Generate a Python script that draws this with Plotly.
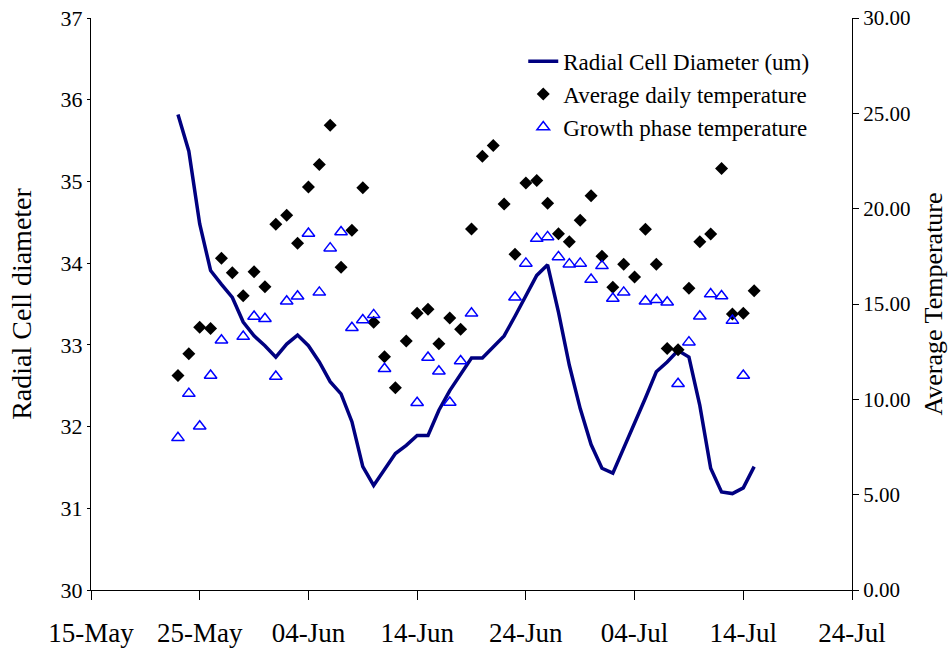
import pandas as pd
import plotly.graph_objects as go

# Daily dates (23-May to 15-Jul)
dates = pd.date_range("2007-05-23", "2007-07-15", freq="D")

# Radial cell diameter (um) - left axis
radial_diameter = [
    35.82, 35.37, 34.48, 33.91, 33.74, 33.58, 33.28, 33.11, 32.99,
    32.85, 33.01, 33.12, 32.99, 32.79, 32.55, 32.40, 32.06, 31.51, 31.28,
    31.48, 31.67, 31.77, 31.89, 31.89, 32.20, 32.44, 32.65, 32.84, 32.84,
    32.98, 33.11, 33.35, 33.61, 33.85, 33.98, 33.40, 32.75, 32.22, 31.78,
    31.49, 31.43, 31.73, 32.04, 32.35, 32.67, 32.79, 32.93, 32.85, 32.26,
    31.49, 31.20, 31.18, 31.25, 31.51,
]

# Average daily temperature - right axis
avg_daily_temp = [
    11.25, 12.39, 13.78, 13.72, 17.40, 16.64, 15.43, 16.69, 15.90,
    19.18, 19.65, 18.19, 21.13, 22.32, 24.37, 16.93, 18.87, 21.10, 14.04,
    12.23, 10.61, 13.06, 14.51, 14.72, 12.91, 14.27, 13.67, 18.93, 22.75,
    23.31, 20.24, 17.61, 21.35, 21.48, 20.29, 18.69, 18.26, 19.39, 20.68,
    17.51, 15.88, 17.08, 16.41, 18.92, 17.08, 12.66, 12.60, 15.82, 18.26,
    18.67, 22.11, 14.48, 14.51, 15.70,
]

# Growth phase temperature - right axis
growth_phase_temp = [
    7.98, 10.30, 8.59, 11.25, 13.10, None, 13.29, 14.34, 14.23,
    11.20, 15.14, 15.41, 18.70, 15.61, 17.93, 18.78, 13.75, 14.16, 14.43,
    11.60, None, None, 9.82, 12.19, 11.47, 9.83, 12.01, 14.51, None,
    None, None, 15.35, 17.13, 18.43, 18.52, 17.47, 17.09, 17.13, 16.28,
    17.00, 15.29, 15.61, None, 15.14, 15.22, 15.09, 10.82, 13.00, 14.36,
    15.52, 15.42, 14.13, 11.25, None,
]

left_ticks = [30, 31, 32, 33, 34, 35, 36, 37]
right_ticks = [0, 5, 10, 15, 20, 25, 30]
right_tick_labels = ["0.00", "5.00", "10.00", "15.00", "20.00", "25.00", "30.00"]

FONT = "Liberation Serif"

fig = go.Figure()
fig.add_trace(go.Scatter(
    x=dates, y=radial_diameter, mode="lines",
    name="Radial Cell Diameter (um)",
    line=dict(color="#000080", width=3.5),
    legendgroup="a", yaxis="y",
))
fig.add_trace(go.Scatter(
    x=dates, y=avg_daily_temp, mode="markers",
    name="Average daily temperature",
    marker=dict(symbol="diamond", color="black", size=10),
    legendgroup="b", yaxis="y2",
))
fig.add_trace(go.Scatter(
    x=dates, y=growth_phase_temp, mode="markers",
    name="Growth phase temperature",
    marker=dict(symbol="triangle-up-open", color="#0000FF", size=11,
                line=dict(width=1.5, color="#0000FF")),
    legendgroup="c", yaxis="y2",
))

fig.update_layout(
    width=949, height=653,
    margin=dict(l=91, r=97, t=18, b=63),
    paper_bgcolor="white", plot_bgcolor="white",
    font=dict(family=FONT, color="black"),
    showlegend=True,
    legend=dict(
        x=0.568, y=0.962, xanchor="left", yanchor="top",
        font=dict(family=FONT, size=23, color="black"),
        bgcolor="rgba(0,0,0,0)", tracegroupgap=11,
        traceorder="normal",
    ),
    xaxis=dict(
        type="date", automargin=False,
        range=["2007-05-15", "2007-07-24"],
        tick0="2007-05-15", dtick=10 * 86400000,
        tickformat="%d-%b",
        ticks="outside", ticklen=9, tickcolor="black",
        ticklabelstandoff=10,
        showline=True, linecolor="black", linewidth=1,
        showgrid=False, zeroline=False,
        tickfont=dict(family=FONT, size=27, color="black"),
    ),
    yaxis=dict(
        range=[30, 37], tickvals=left_ticks, automargin=False,
        ticks="outside", ticklen=3, tickcolor="black",
        showline=True, linecolor="black", linewidth=1,
        showgrid=False, zeroline=False,
        tickfont=dict(family=FONT, size=22, color="black"),
        title=dict(text="Radial Cell diameter",
                   font=dict(family=FONT, size=28, color="black"), standoff=20),
    ),
    yaxis2=dict(
        range=[0, 30], tickvals=right_ticks, ticktext=right_tick_labels,
        overlaying="y", side="right", automargin=False,
        ticks="outside", ticklen=6, tickcolor="black",
        showline=True, linecolor="black", linewidth=1,
        showgrid=False, zeroline=False,
        tickfont=dict(family=FONT, size=21, color="black"),
        title=dict(text="Average Temperature",
                   font=dict(family=FONT, size=26, color="black"), standoff=14),
    ),
)

# Remove the browser's default 8px body margin so the figure sits at (0, 0).
fig.write_html("out.html",
               config={"displayModeBar": False},
               post_script="document.body.style.margin='0';document.body.style.overflow='hidden';")
